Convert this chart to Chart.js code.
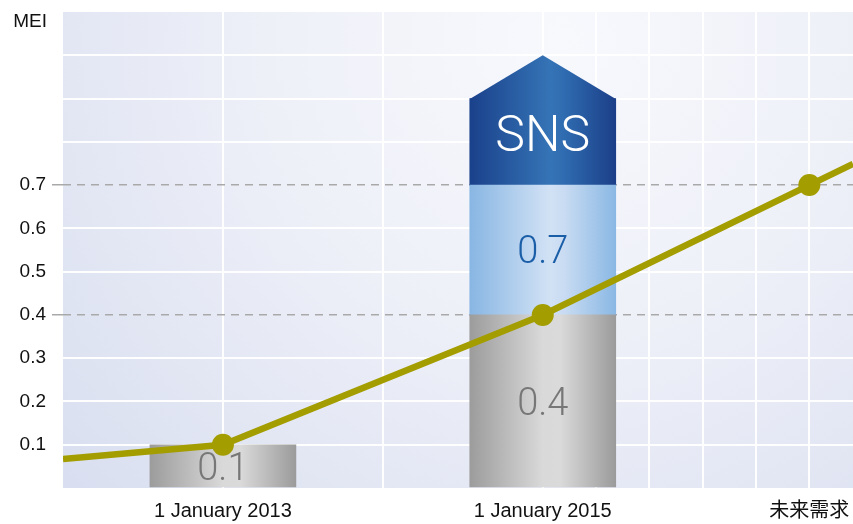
<!DOCTYPE html>
<html><head><meta charset="utf-8">
<script src="https://cdn.jsdelivr.net/npm/chart.js@4/dist/chart.umd.min.js"></script>
<style>html,body{margin:0;padding:0;background:#fff}</style>
</head><body>
<canvas id="c" width="853" height="524"></canvas>
<script>
// ---- data ----
const categories = ['1 January 2013', '1 January 2015', '未来需求'];
const categoryX = [2013, 2015, 2016.667];
const meiPoints = [0.1, 0.4, 0.7];             // MEI line at each category
const lineX = [2012, 2013, 2015, 2016.667, 2016.94];
const lineY = [0.067, 0.1, 0.4, 0.7, 0.749];    // line incl. its run-in / run-out
const barX = [2013, 2015];
const grayBars = [0.1, 0.4];
const blueRange = [0.4, 0.7];
const snsRange = [0.7, 0.9];
const snsTip = 1.0;
const barLabels = ['0.1', '0.4', '0.7', 'SNS'];
const yTickValues = [0.1, 0.2, 0.3, 0.4, 0.5, 0.6, 0.7];
const yGridValues = [0, 0.1, 0.2, 0.3, 0.4, 0.5, 0.6, 0.7, 0.8, 0.9, 1.0, 1.1];
const dashedLevels = [0.4, 0.7];
const xGridValues = [2013, 2014, 2015, 2015.333, 2015.667, 2016, 2016.333, 2016.667];

// ---- styles ----
const FONT = "'Liberation Sans', Arial, Helvetica, sans-serif";
const LIGHT = "Roboto, 'Liberation Sans', Arial, sans-serif";
const BAR_W = 146;
const OLIVE = '#a39d00';
const grayStops = [[0, '#9c9c9c'], [0.5, '#d9d9d9'], [0.62, '#dadada'], [1, '#9b9b9b']];
const blueStops = [[0, '#88b6e3'], [0.55, '#d2e2f5'], [0.65, '#c8dbf2'], [1, '#8ab8e4']];
const darkStops = [[0, '#1a418b'], [0.55, '#3574b6'], [0.65, '#2f6bb0'], [1, '#1b3f88']];

function makeGrad(chart, cx, stops) {
  const g = chart.ctx.createLinearGradient(cx - BAR_W / 2, 0, cx + BAR_W / 2, 0);
  stops.forEach(([o, c]) => g.addColorStop(o, c));
  return g;
}
function gradFn(stops) {
  return (ctx) => {
    const chart = ctx.chart;
    if (!chart.chartArea || !ctx.raw) return stops[1][1];
    return makeGrad(chart, chart.scales.x.getPixelForValue(ctx.raw.x), stops);
  };
}

const bgPlugin = {
  id: 'bg',
  beforeDraw(chart) {
    const { ctx, chartArea: a } = chart;
    const g = ctx.createRadialGradient(560, 40, 0, 560, 40, 660);
    g.addColorStop(0, '#f8f9fd');
    g.addColorStop(0.45, '#eef0f8');
    g.addColorStop(1, '#d9dff0');
    ctx.save();
    ctx.fillStyle = g;
    ctx.fillRect(a.left, a.top, a.right - a.left, a.bottom - a.top);
    ctx.restore();
  }
};

const decoPlugin = {
  id: 'deco',
  beforeDatasetDraw(chart, args) {
    if (args.meta.type !== 'line') return;
    const { ctx } = chart;
    const xs = chart.scales.x, ys = chart.scales.y;
    // SNS arrow roof
    const cx = xs.getPixelForValue(barX[1]);
    const yBase = ys.getPixelForValue(snsRange[1]);
    const yTip = ys.getPixelForValue(snsTip);
    ctx.save();
    ctx.fillStyle = makeGrad(chart, cx, darkStops);
    ctx.beginPath();
    ctx.moveTo(cx - BAR_W / 2, yBase + 0.5);
    ctx.lineTo(cx, yTip);
    ctx.lineTo(cx + BAR_W / 2, yBase + 0.5);
    ctx.closePath();
    ctx.fill();
    // labels
    ctx.textAlign = 'center';
    ctx.textBaseline = 'middle';
    const items = [
      [barX[0], (0 + grayBars[0]) / 2, barLabels[0], '#777777', 38, 4],
      [barX[1], (0 + grayBars[1]) / 2, barLabels[1], '#777777', 38, 4],
      [barX[1], (blueRange[0] + blueRange[1]) / 2, barLabels[2], '#1b5ea8', 38, 3],
      [barX[1], (snsRange[0] + snsRange[1]) / 2, barLabels[3], '#ffffff', 50, -3]
    ];
    items.forEach(([x, y, t, col, size, dy]) => {
      ctx.font = `300 ${size}px ${LIGHT}`;
      ctx.fillStyle = col;
      ctx.fillText(t, xs.getPixelForValue(x), ys.getPixelForValue(y) + dy);
    });
    ctx.restore();
  },
  afterDraw(chart) {
    const { ctx, chartArea: a } = chart;
    ctx.save();
    ctx.font = `19px ${FONT}`;
    ctx.fillStyle = '#111';
    ctx.textAlign = 'right';
    ctx.textBaseline = 'middle';
    ctx.fillText('MEI', a.left - 16, a.top + 10);
    ctx.restore();
  }
};

new Chart(document.getElementById('c'), {
  type: 'bar',
  data: {
    datasets: [
      {
        type: 'line',
        order: 0,
        data: lineX.map((x, i) => ({ x, y: lineY[i] })),
        borderColor: OLIVE,
        backgroundColor: OLIVE,
        borderWidth: 6.5,
        pointRadius: lineX.map(x => categoryX.includes(x) && meiPoints.length ? 11 : 0),
        pointBackgroundColor: OLIVE,
        pointBorderWidth: 0,
        tension: 0
      },
      {
        order: 1, grouped: false, barThickness: BAR_W, borderWidth: 0, borderSkipped: false,
        data: barX.map((x, i) => ({ x, y: [0, grayBars[i]] })),
        backgroundColor: gradFn(grayStops)
      },
      {
        order: 1, grouped: false, barThickness: BAR_W, borderWidth: 0, borderSkipped: false,
        data: [{ x: barX[1], y: blueRange }],
        backgroundColor: gradFn(blueStops)
      },
      {
        order: 1, grouped: false, barThickness: BAR_W, borderWidth: 0, borderSkipped: false,
        data: [{ x: barX[1], y: snsRange }],
        backgroundColor: gradFn(darkStops)
      }
    ]
  },
  options: {
    responsive: false,
    devicePixelRatio: 1,
    animation: false,
    layout: { padding: { top: 12, right: 0, left: 0, bottom: 0 } },
    plugins: { legend: { display: false }, tooltip: { enabled: false } },
    scales: {
      x: {
        type: 'linear', min: 2012, max: 2016.94, offset: false,
        afterBuildTicks: s => { s.ticks = xGridValues.map(v => ({ value: v })); },
        ticks: {
          autoSkip: false, maxRotation: 0, padding: 11, color: '#111',
          font: { size: 20, family: "'Liberation Sans', Arial, 'Noto Sans CJK SC', sans-serif" },
          callback: v => { const i = categoryX.indexOf(v); return i >= 0 ? categories[i] : ''; }
        },
        grid: { color: 'rgba(255,255,255,0.95)', lineWidth: 2, drawTicks: false, offset: false },
        border: { display: false },
        afterFit: s => { s.height = 36; s.paddingLeft = 0; s.paddingRight = 0; }
      },
      y: {
        min: 0, max: 1.1,
        afterBuildTicks: s => { s.ticks = yGridValues.map(v => ({ value: v })); },
        ticks: {
          padding: 6, color: '#111', font: { size: 19, family: FONT },
          callback: v => yTickValues.includes(v) ? v.toFixed(1) : ''
        },
        grid: {
          color: c => dashedLevels.includes(c.tick && c.tick.value) ? '#a9a9a9'
            : (c.tick && (c.tick.value === 0 || c.tick.value === 1.1) ? 'rgba(0,0,0,0)' : 'rgba(255,255,255,0.95)'),
          lineWidth: c => dashedLevels.includes(c.tick && c.tick.value) ? 1.5 : 2,
          tickColor: c => dashedLevels.includes(c.tick && c.tick.value) ? '#a9a9a9' : 'rgba(0,0,0,0)',
          tickLength: 11,
          tickWidth: 1.5
        },
        border: {
          display: false,
          dash: c => dashedLevels.includes(c.tick && c.tick.value) ? [8, 6] : []
        },
        afterFit: s => { s.width = 63; s.paddingTop = 0; s.paddingBottom = 0; }
      }
    }
  },
  plugins: [bgPlugin, decoPlugin]
});
</script>
</body></html>
